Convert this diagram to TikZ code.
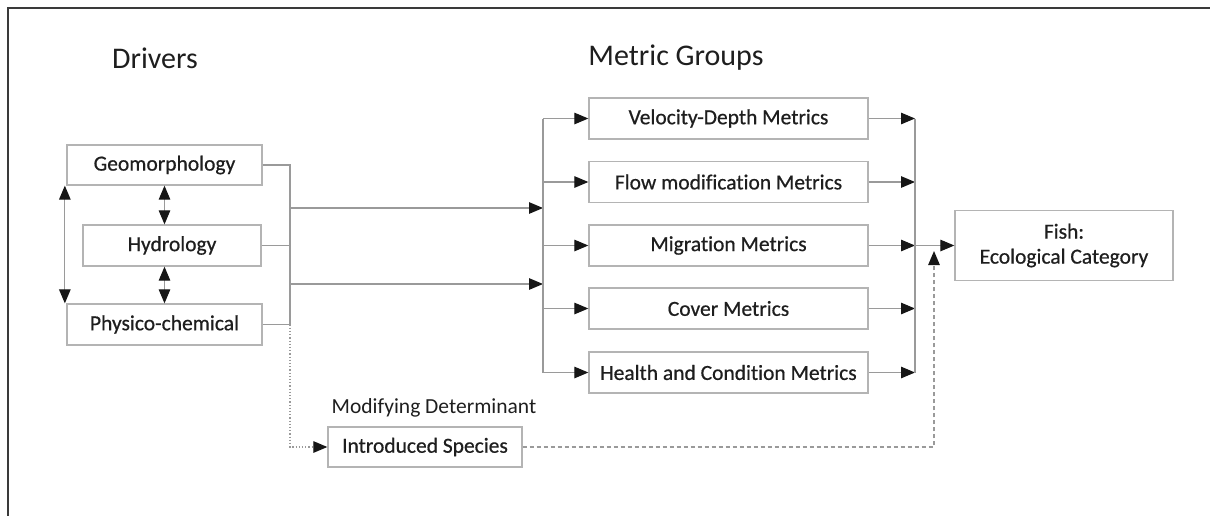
\documentclass[tikz,border=0pt]{standalone}
\usepackage{fontspec}
\setmainfont[Ligatures={NoCommon}]{Carlito}
\newfontfamily\boxfont[Ligatures={NoCommon},FakeBold=0.6]{Carlito}
\usetikzlibrary{arrows.meta}
\definecolor{txt}{HTML}{1E1E1E}
\definecolor{boxline}{HTML}{B4B4B4}
\definecolor{wire}{HTML}{9A9A9A}
\definecolor{tipc}{HTML}{161616}
\definecolor{framec}{HTML}{3A3A3A}
\tikzset{
  box/.style={draw=boxline, line width=1.3pt, fill=white, text=txt,
    font=\boxfont\fontsize{21.5}{25}\selectfont, inner sep=0pt, align=center},
  heading/.style={text=txt, font=\fontsize{30}{34}\selectfont, inner sep=0pt},
  sublabel/.style={text=txt, font=\fontsize{21.5}{25}\selectfont, inner sep=0pt},
  wireline/.style={draw=wire, line width=1.2pt},
  arr/.style={wireline, -{Triangle[length=14pt,width=11.5pt,color=tipc]}},
  dbl/.style={wireline, {Triangle[length=14pt,width=11.5pt,color=tipc]}-{Triangle[length=14pt,width=11.5pt,color=tipc]}},
}
\begin{document}
\begin{tikzpicture}[x=1pt,y=-1pt]
\useasboundingbox (0,0) rectangle (1210,515);
% outer frame (top and left edges)
\draw[framec, line width=2pt] (8,518) -- (8,8) -- (1212,8);

% headings
\node[heading] (drv) at (155,58) {Drivers};
\node[heading] (mg) at (676,58) {Metric Groups};

% drivers
\node[box, minimum width=195, minimum height=40] (geo) at (164.5,165) {Geomorphology};
\node[box, minimum width=178, minimum height=41] (hyd) at (172,245.5) {Hydrology};
\node[box, minimum width=195, minimum height=41] (phy) at (164.5,324.5) {Physico-chemical};

% metric groups
\node[box, minimum width=279, minimum height=41] (m1) at (728.5,118.5) {Velocity-Depth Metrics};
\node[box, minimum width=279, minimum height=41] (m2) at (728.5,182) {Flow modification Metrics};
\node[box, minimum width=279, minimum height=41] (m3) at (728.5,245.5) {Migration Metrics};
\node[box, minimum width=279, minimum height=41] (m4) at (728.5,308.5) {Cover Metrics};
\node[box, minimum width=279, minimum height=41] (m5) at (728.5,372.5) {Health and Condition Metrics};

% outcome
\node[box, minimum width=218, minimum height=70] (fish) at (1064,245.5) {Fish:\\Ecological Category};

% modifying determinant
\node[sublabel] (modlab) at (434,408) {Modifying Determinant};
\node[box, minimum width=194, minimum height=40] (intro) at (425,447) {Introduced Species};

% junction points
\coordinate (bt) at (290,165);
\coordinate (bb) at (290,324.5);
\coordinate (lt) at (543,118.5);
\coordinate (lb) at (543,372.5);
\coordinate (rt) at (915,118.5);
\coordinate (rb) at (915,372.5);
\coordinate (dc) at (934,447);
\coordinate (dtip) at (934,251);

% interactions among drivers
\draw[dbl] ([xshift=-1.5pt]geo.south west) -- ([xshift=-1.5pt]phy.north west);
\draw[dbl] (geo.south) -- (geo.south |- hyd.north);
\draw[dbl] (hyd.south -| geo.south) -- (phy.north);

% drivers bracket
\draw[wireline] (geo.east) -- (bt) -- (bb) -- (phy.east);
\draw[wireline] (hyd.east) -- (hyd.east -| bt);
\draw[arr] (290,208) -- (543,208);
\draw[arr] (290,284) -- (543,284);

% distribution to metric groups
\draw[wireline] (lt) -- (lb);
\foreach \m in {m1,m2,m3,m4,m5}{
  \draw[arr] (\m.west -| lt) -- (\m.west);
  \draw[arr] (\m.east) -- (\m.east -| rt);
}
\draw[wireline] (rt) -- (rb);
\draw[arr] (m3.east -| rt) -- (fish.west);

% modifying determinant links
\draw[wireline, dotted, -{Triangle[length=14pt,width=11.5pt,color=tipc]}] (bb) -- (bb |- intro.west) -- (intro.west);
\draw[wireline, dashed, dash pattern=on 4pt off 3pt, -{Triangle[length=14pt,width=11.5pt,color=tipc]}] (intro.east) -- (dc) -- (dtip);
\end{tikzpicture}
\end{document}
